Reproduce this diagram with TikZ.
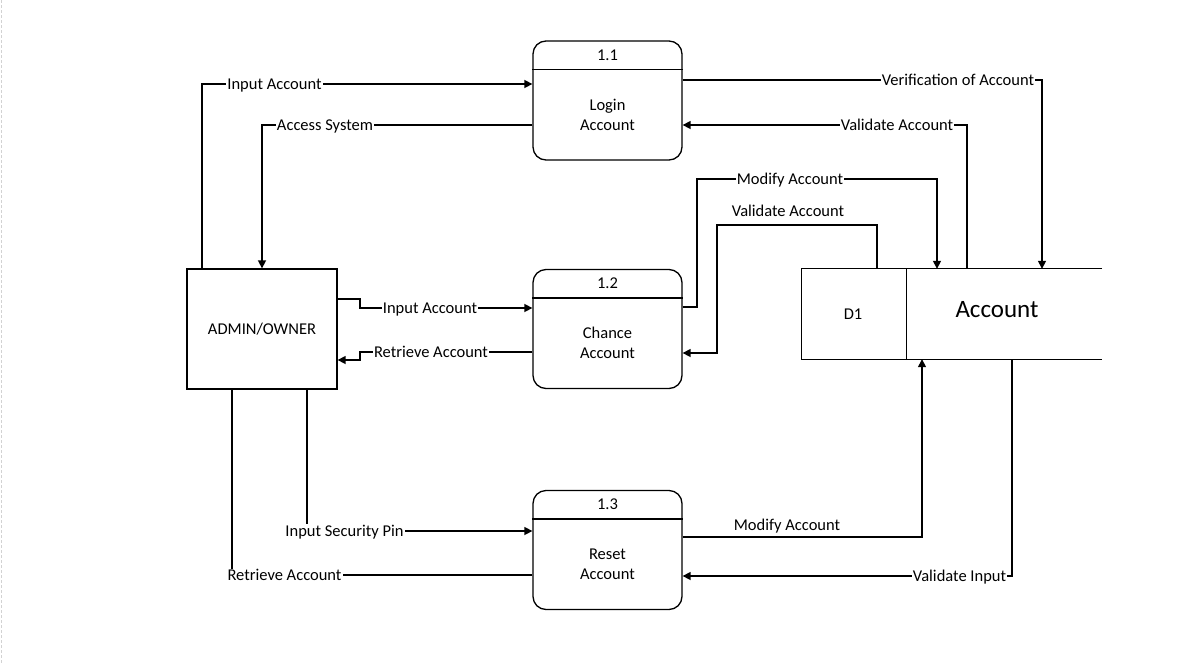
\documentclass[tikz,border=0pt]{standalone}
\usepackage{fontspec}
\setmainfont{Carlito}
\usetikzlibrary{arrows.meta}
\begin{document}
\begin{tikzpicture}[x=1pt,y=-1pt,
 every node/.style={font=\fontsize{16.5}{20}\selectfont},
 box/.style={draw, line width=1.3pt, minimum width=150pt, minimum height=120pt, inner sep=0},
 proc/.style={draw, line width=1.3pt, rounded corners=13pt, minimum width=149pt, minimum height=119pt, inner sep=0},
 flow/.style={line width=1.5pt, -{Triangle[length=8pt,width=8pt]}},
 plain/.style={line width=1.5pt},
 lbl/.style={fill=white, inner sep=1pt, text height=11pt, text depth=3.5pt, anchor=base, yshift=-5pt}]
\useasboundingbox (0,0) rectangle (1186,664);
\fill[white] (0,0) rectangle (1186,664);
\draw[gray!35, line width=1pt, dash pattern=on 3pt off 2pt] (1,0) -- (1,664);

% entities and processes
\node[box] (admin) at (262,329) {ADMIN/OWNER};

\node[proc] (p11) at (607.5,100.5) {};
\draw[line width=1.3pt] ([yshift=-29pt]p11.north west) -- ([yshift=-29pt]p11.north east);
\node (n11) at ([yshift=-14.5pt]p11.north) {1.1};
\node[align=center] (t11) at ([yshift=-14pt]p11.center) {Login\\Account};

\node[proc] (p12) at (607.5,329) {};
\draw[line width=1.3pt] ([yshift=-29pt]p12.north west) -- ([yshift=-29pt]p12.north east);
\node (n12) at ([yshift=-14.5pt]p12.north) {1.2};
\node[align=center] (t12) at ([yshift=-14pt]p12.center) {Chance\\Account};

\node[proc] (p13) at (607.5,550) {};
\draw[line width=1.3pt] ([yshift=-29pt]p13.north west) -- ([yshift=-29pt]p13.north east);
\node (n13) at ([yshift=-14.5pt]p13.north) {1.3};
\node[align=center] (t13) at ([yshift=-14pt]p13.center) {Reset\\Account};

% data store
\node[minimum width=300pt, minimum height=90pt, inner sep=0] (ds) at (952,314) {};
\draw[line width=1.3pt] (ds.north east) -- (ds.north west) -- (ds.south west) -- (ds.south east);
\draw[line width=1.3pt] ([xshift=105pt]ds.north west) -- ([xshift=105pt]ds.south west);
\node (d1) at (853,314) {D1};
\node[font=\fontsize{25}{30}\selectfont] (acc) at (997,310) {Account};

% waypoints
\coordinate (a1) at (202,84);
\coordinate (a2) at (262,125);
\coordinate (a3) at (1042,80);
\coordinate (a4) at (967,125);
\coordinate (a5) at (697,307);
\coordinate (a5b) at (937,179);
\coordinate (a6) at (877,225);
\coordinate (a6b) at (717,353);
\coordinate (a7) at (360,299);
\coordinate (a7b) at (360,308);
\coordinate (a8) at (360,352);
\coordinate (a8b) at (360,360);
\coordinate (a9) at (307,531);
\coordinate (a10) at (232,575);
\coordinate (a11) at (922,537);
\coordinate (a12) at (1012,576);

% connectors
\draw[flow] (a1 |- admin.north) -- (a1) -- (a1 -| p11.west);
\draw[flow] (a2 -| p11.west) -- (a2) -- (a2 |- admin.north);
\draw[flow] (a3 -| p11.east) -- (a3) -- (a3 |- ds.north);
\draw[flow] (a4 |- ds.north) -- (a4) -- (a4 -| p11.east);
\draw[flow] (a5 -| p12.east) -- (a5) |- (a5b) -- (a5b |- ds.north);
\draw[flow] (a6 |- ds.north) -- (a6) -| (a6b) -- (a6b -| p12.east);
\draw[flow] (a7 -| admin.east) -- (a7) -- (a7b) -- (a7b -| p12.west);
\draw[flow] (a8 -| p12.west) -- (a8) -- (a8b) -- (a8b -| admin.east);
\draw[flow] (a9 |- admin.south) -- (a9) -- (a9 -| p13.west);
\draw[plain] (a10 -| p13.west) -- (a10) -- (a10 |- admin.south);
\draw[flow] (a11 -| p13.east) -- (a11) -- (a11 |- ds.south);
\draw[flow] (a12 |- ds.south) -- (a12) -- (a12 -| p13.east);

% labels
\node[lbl] (l1) at (274.5,84) {Input Account};
\node[lbl] (l2) at (325,125) {Access System};
\node[lbl] (l3) at (958,80) {Verification of Account};
\node[lbl] (l4) at (897,125) {Validate Account};
\node[lbl] (l5) at (790,179) {Modify Account};
\node[lbl] (l6) at (788,211) {Validate Account};
\node[lbl] (l7) at (430,308) {Input Account};
\node[lbl] (l8) at (431,352) {Retrieve Account};
\node[lbl] (l9) at (344.5,531) {Input Security Pin};
\node[lbl] (l10) at (284.5,575.5) {Retrieve Account};
\node[lbl] (l11) at (787,525) {Modify Account};
\node[lbl] (l12) at (959.5,576) {Validate Input};
\end{tikzpicture}
\end{document}
